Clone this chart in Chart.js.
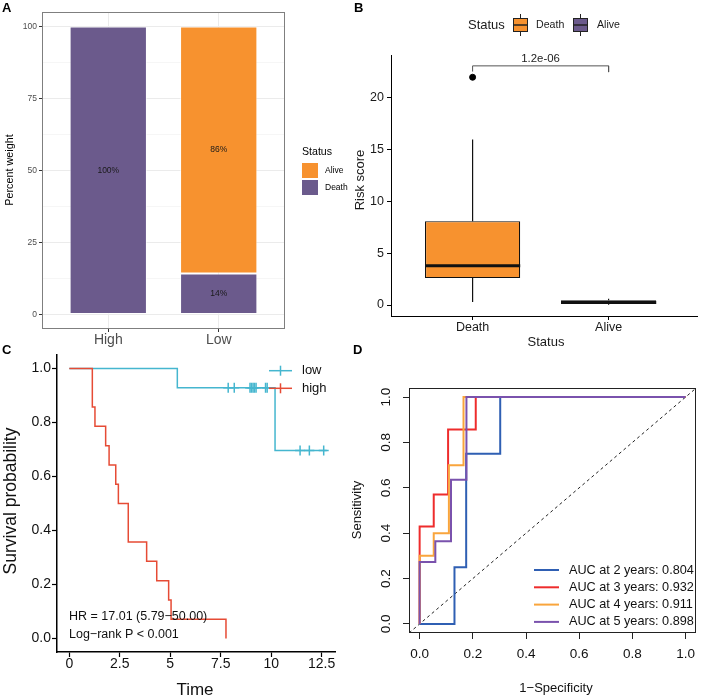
<!DOCTYPE html>
<html>
<head>
<meta charset="utf-8">
<script src="https://cdn.jsdelivr.net/npm/chart.js@4.4.1/dist/chart.umd.min.js"></script>
<style>
  body { margin: 0; background: #fff; width: 702px; height: 699px; position: relative; overflow: hidden; }
  canvas { position: absolute; }
</style>
</head>
<body>
<canvas id="panelA" width="351" height="352" style="left:0;top:0"></canvas>
<canvas id="panelB" width="351" height="352" style="left:351px;top:0"></canvas>
<canvas id="panelC" width="351" height="359" style="left:0;top:340px"></canvas>
<canvas id="panelD" width="351" height="359" style="left:351px;top:340px"></canvas>
<script>
// ---- A: status share per risk group (%)
const riskGroups = ['High', 'Low'];
const deathPct = [100, 14.29];
const alivePct = [0, 85.71];
const pctTicks = [0, 12.5, 25, 37.5, 50, 62.5, 75, 87.5, 100];

// ---- B: risk score by status (box stats)
const statusGroups = ['Death', 'Alive'];
const scoreLowWhisker = [0.3, 0.02];
const scoreQ1 = [2.6, 0.1];
const scoreMedian = [3.8, 0.25];
const scoreQ3 = [8.1, 0.45];
const scoreHighWhisker = [16, 0.6];
const scoreOutliers = [[22], []];
const scoreTicks = [0, 5, 10, 15, 20];
const pValue = '1.2e-06';
const bracketY = 23.1;

// ---- C: Kaplan-Meier
const highTime = [0, 1.14, 1.27, 1.80, 1.97, 2.30, 2.43, 2.92, 3.83, 4.33, 4.92, 5.04, 7.76];
const highSurv = [1, 0.857, 0.786, 0.714, 0.643, 0.571, 0.5, 0.357, 0.286, 0.214, 0.143, 0.071, 0];
const lowTime = [0, 5.35, 10.19, 12.75];
const lowSurv = [1, 0.929, 0.696, 0.696];
const lowCensorTime = [7.87, 8.17, 8.95, 9.02, 9.1, 9.17, 9.25, 9.72, 9.8, 11.43, 11.89, 12.6];
const lowCensorSurv = [0.929, 0.929, 0.929, 0.929, 0.929, 0.929, 0.929, 0.929, 0.929, 0.696, 0.696, 0.696];
const timeTicks = [0, 2.5, 5, 7.5, 10, 12.5];
const probTicks = [0, 0.2, 0.4, 0.6, 0.8, 1];
const hrText = 'HR = 17.01 (5.79\u221250.00)';
const pText = 'Log\u2212rank P < 0.001';

// ---- D: time-dependent ROC
const rocYears = [2, 3, 4, 5];
const rocAuc = [0.804, 0.932, 0.911, 0.898];
const rocFpr2 = [0, 0.131, 0.131, 0.175, 0.175, 0.303, 0.303, 1];
const rocTpr2 = [0, 0, 0.25, 0.25, 0.75, 0.75, 1, 1];
const rocFpr3 = [0, 0, 0.053, 0.053, 0.107, 0.107, 0.211, 0.211, 1];
const rocTpr3 = [0, 0.429, 0.429, 0.571, 0.571, 0.857, 0.857, 1, 1];
const rocFpr4 = [0, 0, 0.053, 0.053, 0.11, 0.11, 0.165, 0.165, 1];
const rocTpr4 = [0, 0.3, 0.3, 0.4, 0.4, 0.7, 0.7, 1, 1];
const rocFpr5 = [0, 0, 0.059, 0.059, 0.118, 0.118, 0.176, 0.176, 1];
const rocTpr5 = [0, 0.273, 0.273, 0.364, 0.364, 0.636, 0.636, 1, 1];
const unitTicks = [0, 0.2, 0.4, 0.6, 0.8, 1];

const FONT = '"Liberation Sans", Arial, Helvetica, sans-serif';
Chart.defaults.font.family = FONT;
const PURPLE = '#6B5A8C';
const ORANGE = '#F7922F';
const CYAN = '#45B6CF';
const RED = '#E64B35';
const rocColors = ['#2F5FB3', '#EE2C2C', '#F9A53C', '#7A52AD'];

function drawText(ctx, text, x, y, o) {
  ctx.save();
  ctx.font = o.font;
  ctx.fillStyle = o.color || '#000';
  ctx.textAlign = o.align || 'left';
  ctx.textBaseline = 'middle';
  ctx.translate(x, y);
  if (o.rotate) ctx.rotate(o.rotate);
  ctx.fillText(text, 0, 0);
  ctx.restore();
}
function seg(ctx, x1, y1, x2, y2) {
  ctx.beginPath(); ctx.moveTo(x1, y1); ctx.lineTo(x2, y2); ctx.stroke();
}
const pts = (xs, ys) => xs.map((x, i) => ({ x: x, y: ys[i] }));
const fixedTicks = arr => s => { s.ticks = arr.map(v => ({ value: v })); };

// ================= A =================
new Chart(document.getElementById('panelA'), {
  type: 'bar',
  data: {
    datasets: [
      { label: 'Death', data: riskGroups.map((g, i) => ({ x: i + 1, y: deathPct[i] })).filter(p => p.y > 0),
        backgroundColor: PURPLE, borderColor: 'rgba(255,255,255,0.65)', borderWidth: 1, borderSkipped: false },
      { label: 'Alive', data: riskGroups.map((g, i) => ({ x: i + 1, y: alivePct[i] })).filter(p => p.y > 0),
        backgroundColor: ORANGE, borderColor: 'rgba(255,255,255,0.65)', borderWidth: 1, borderSkipped: false }
    ]
  },
  options: {
    responsive: false, animation: false, events: [],
    barPercentage: 0.7, categoryPercentage: 1,
    layout: { padding: { top: 12, right: 66, left: 0, bottom: 0 } },
    plugins: { legend: { display: false }, tooltip: { enabled: false } },
    scales: {
      x: {
        type: 'linear', stacked: true, min: 0.4, max: 2.6, offset: false,
        afterBuildTicks: fixedTicks([1, 2]),
        afterFit: s => { s.height = 23; },
        ticks: { callback: v => riskGroups[v - 1], font: { size: 14 }, color: '#4D4D4D', padding: 0, maxRotation: 0, autoSkip: false },
        grid: { offset: false, color: '#EBEBEB', tickColor: '#333', tickLength: 3 },
        border: { display: false }
      },
      y: {
        stacked: true, min: -5, max: 105,
        afterBuildTicks: fixedTicks(pctTicks),
        afterFit: s => { s.width = 42; },
        ticks: { callback: v => (v % 25 === 0 ? v : ''), font: { size: 8.5 }, color: '#4D4D4D', padding: 2 },
        grid: {
          color: c => (c.tick && c.tick.value % 25 === 0 ? '#EBEBEB' : '#F6F6F6'),
          tickColor: c => (c.tick && c.tick.value % 25 === 0 ? '#333' : 'rgba(0,0,0,0)'),
          tickLength: 3
        },
        border: { display: false }
      }
    }
  },
  plugins: [{
    id: 'panelA',
    afterDatasetsDraw(chart) {
      const ctx = chart.ctx;
      chart.data.datasets.forEach((ds, di) => {
        chart.getDatasetMeta(di).data.forEach((bar, j) => {
          drawText(ctx, Math.round(ds.data[j].y) + '%', bar.x, (bar.y + bar.base) / 2,
            { font: '8.5px ' + FONT, align: 'center', color: '#1A1A1A' });
        });
      });
    },
    afterDraw(chart) {
      const ctx = chart.ctx, a = chart.chartArea;
      ctx.save();
      ctx.strokeStyle = '#7F7F7F'; ctx.lineWidth = 1;
      ctx.strokeRect(a.left + 0.5, a.top + 0.5, a.width - 1, a.height - 1);
      ctx.restore();
      drawText(ctx, 'A', 2, 8, { font: 'bold 13px ' + FONT });
      drawText(ctx, 'Percent weight', 10, 170, { font: '10.8px ' + FONT, align: 'center', rotate: -Math.PI / 2 });
      drawText(ctx, 'Status', 302, 152, { font: '10.6px ' + FONT });
      ctx.fillStyle = ORANGE; ctx.fillRect(302, 163, 16, 15);
      ctx.fillStyle = PURPLE; ctx.fillRect(302, 180, 16, 15);
      drawText(ctx, 'Alive', 325, 170.5, { font: '8.5px ' + FONT });
      drawText(ctx, 'Death', 325, 187.5, { font: '8.5px ' + FONT });
    }
  }]
});

// ================= B =================
new Chart(document.getElementById('panelB'), {
  type: 'bar',
  data: {
    datasets: [
      { type: 'scatter', data: scoreOutliers.flatMap((arr, i) => arr.map(v => ({ x: i + 1, y: v }))),
        pointRadius: 3, backgroundColor: '#000', borderColor: '#000' },
      { type: 'line', data: [{ x: 1, y: bracketY - 0.55 }, { x: 1, y: bracketY }, { x: 2, y: bracketY }, { x: 2, y: bracketY - 0.6 }],
        borderColor: '#555', borderWidth: 1, pointRadius: 0 },
      { type: 'bar', data: statusGroups.map((g, i) => ({ x: i + 1, y: [scoreQ1[i], scoreQ3[i]] })),
        backgroundColor: [ORANGE, PURPLE], borderColor: '#111', borderWidth: 1.2, borderSkipped: false,
        barPercentage: 0.7, categoryPercentage: 1 }
    ]
  },
  options: {
    responsive: false, animation: false, events: [],
    layout: { padding: { top: 55, right: 0, left: 0, bottom: 0 } },
    plugins: { legend: { display: false }, tooltip: { enabled: false } },
    scales: {
      x: {
        type: 'linear', min: 0.4, max: 2.65, offset: false,
        afterBuildTicks: fixedTicks([1, 2]),
        afterFit: s => { s.height = 36; },
        ticks: { callback: v => statusGroups[v - 1], font: { size: 12.5 }, color: '#1A1A1A', padding: 0, maxRotation: 0, autoSkip: false },
        grid: { offset: false, drawOnChartArea: false, tickColor: '#000', tickLength: 4 },
        border: { color: '#000', width: 1 }
      },
      y: {
        min: -1.06, max: 24.15,
        afterBuildTicks: fixedTicks(scoreTicks),
        afterFit: s => { s.width = 40; },
        ticks: { font: { size: 12.5 }, color: '#1A1A1A', padding: 3 },
        grid: { drawOnChartArea: false, tickColor: '#000', tickLength: 4 },
        border: { color: '#000', width: 1 }
      }
    }
  },
  plugins: [{
    id: 'panelB',
    afterDatasetsDraw(chart) {
      const ctx = chart.ctx, ys = chart.scales.y, xs = chart.scales.x;
      ctx.save();
      ctx.strokeStyle = '#111';
      chart.getDatasetMeta(2).data.forEach((el, i) => {
        const hw = el.width / 2;
        ctx.lineWidth = 1.2;
        seg(ctx, el.x, ys.getPixelForValue(scoreQ3[i]), el.x, ys.getPixelForValue(scoreHighWhisker[i]));
        seg(ctx, el.x, ys.getPixelForValue(scoreQ1[i]), el.x, ys.getPixelForValue(scoreLowWhisker[i]));
        ctx.lineWidth = 3;
        const ym = ys.getPixelForValue(scoreMedian[i]);
        seg(ctx, el.x - hw, ym, el.x + hw, ym);
      });
      ctx.restore();
      drawText(ctx, pValue, xs.getPixelForValue(1.5), ys.getPixelForValue(bracketY) - 7,
        { font: '11.4px ' + FONT, align: 'center', color: '#222' });
    },
    afterDraw(chart) {
      const ctx = chart.ctx;
      drawText(ctx, 'B', 3, 8, { font: 'bold 13px ' + FONT });
      drawText(ctx, 'Risk score', 9, 180, { font: '13px ' + FONT, align: 'center', rotate: -Math.PI / 2, color: '#1A1A1A' });
      drawText(ctx, 'Status', 195, 342, { font: '13px ' + FONT, align: 'center', color: '#1A1A1A' });
      drawText(ctx, 'Status', 117, 25, { font: '13px ' + FONT, color: '#1A1A1A' });
      [[162, ORANGE, 'Death', 185], [222, PURPLE, 'Alive', 246]].forEach(([x, col, lab, tx]) => {
        ctx.save();
        ctx.strokeStyle = '#222'; ctx.lineWidth = 1;
        seg(ctx, x + 7.5, 14, x + 7.5, 36);
        ctx.fillStyle = col; ctx.fillRect(x, 18, 15, 14);
        ctx.strokeRect(x + 0.5, 18.5, 14, 13);
        ctx.lineWidth = 1.5; seg(ctx, x, 25, x + 15, 25);
        ctx.restore();
        drawText(ctx, lab, tx, 25, { font: '10.6px ' + FONT, color: '#1A1A1A' });
      });
    }
  }]
});

// ================= C =================
new Chart(document.getElementById('panelC'), {
  type: 'line',
  data: {
    datasets: [
      { data: pts(highTime, highSurv), stepped: true, borderColor: RED, borderWidth: 1.5, pointRadius: 0 },
      { type: 'scatter', data: pts(lowCensorTime, lowCensorSurv), pointStyle: 'cross', pointRadius: 5,
        borderColor: CYAN, borderWidth: 1.5, backgroundColor: CYAN },
      { data: pts(lowTime, lowSurv), stepped: true, borderColor: CYAN, borderWidth: 1.5, pointRadius: 0 }
    ]
  },
  options: {
    responsive: false, animation: false, events: [],
    layout: { padding: { top: 15, right: 16, left: 0, bottom: 0 } },
    plugins: { legend: { display: false }, tooltip: { enabled: false } },
    scales: {
      x: {
        type: 'linear', min: -0.61, max: 13.16,
        afterBuildTicks: fixedTicks(timeTicks),
        afterFit: s => { s.height = 47; },
        ticks: { font: { size: 14 }, color: '#111', padding: -1, maxRotation: 0, autoSkip: false },
        grid: { drawOnChartArea: false, tickColor: '#000', tickLength: 5, tickWidth: 1.2 },
        border: { color: '#000', width: 1.5 }
      },
      y: {
        min: -0.05, max: 1.05,
        afterBuildTicks: fixedTicks(probTicks),
        afterFit: s => { s.width = 57; },
        ticks: { callback: v => v.toFixed(1), font: { size: 14 }, color: '#111', padding: 1 },
        grid: { drawOnChartArea: false, tickColor: '#000', tickLength: 5, tickWidth: 1.2 },
        border: { color: '#000', width: 1.5 }
      }
    }
  },
  plugins: [{
    id: 'panelC',
    afterDraw(chart) {
      const ctx = chart.ctx;
      drawText(ctx, 'C', 2, 10, { font: 'bold 13px ' + FONT });
      drawText(ctx, 'Survival probability', 11, 161, { font: '17.5px ' + FONT, align: 'center', rotate: -Math.PI / 2, color: '#111' });
      drawText(ctx, 'Time', 195, 350, { font: '17px ' + FONT, align: 'center', color: '#111' });
      drawText(ctx, hrText, 69, 277, { font: '12.5px ' + FONT, color: '#111' });
      drawText(ctx, pText, 69, 295, { font: '12.5px ' + FONT, color: '#111' });
      [[30.7, CYAN, 'low'], [48.3, RED, 'high']].forEach(([y, col, lab]) => {
        ctx.save();
        ctx.strokeStyle = col; ctx.lineWidth = 1.5;
        seg(ctx, 269, y, 292, y);
        seg(ctx, 280.5, y - 5, 280.5, y + 5);
        ctx.restore();
        drawText(ctx, lab, 302, y, { font: '13px ' + FONT, color: '#111' });
      });
    }
  }]
});

// ================= D =================
const rocSets = [[rocFpr2, rocTpr2], [rocFpr3, rocTpr3], [rocFpr4, rocTpr4], [rocFpr5, rocTpr5]];
new Chart(document.getElementById('panelD'), {
  type: 'line',
  data: {
    datasets: rocSets.map((r, i) => ({
      data: pts(r[0], r[1]), borderColor: rocColors[i], borderWidth: 2, pointRadius: 0, order: 4 - i
    })).concat([{
      data: [{ x: -0.04, y: -0.04 }, { x: 1.04, y: 1.04 }], borderColor: '#222', borderWidth: 1,
      borderDash: [3, 3], pointRadius: 0, order: 9
    }])
  },
  options: {
    responsive: false, animation: false, events: [],
    layout: { padding: { top: 48, right: 1, left: 0, bottom: 0 } },
    plugins: { legend: { display: false }, tooltip: { enabled: false } },
    scales: {
      x: {
        type: 'linear', min: -0.04, max: 1.04,
        afterBuildTicks: fixedTicks(unitTicks),
        afterFit: s => { s.height = 66; },
        ticks: { callback: v => v.toFixed(1), font: { size: 13.5 }, color: '#111', padding: 7, maxRotation: 0, autoSkip: false },
        grid: { drawOnChartArea: false, tickColor: '#222', tickLength: 6 },
        border: { display: false }
      },
      y: {
        min: -0.04, max: 1.04,
        afterBuildTicks: fixedTicks(unitTicks),
        afterFit: s => { s.width = 58; },
        ticks: { display: false },
        grid: { drawOnChartArea: false, tickColor: '#222', tickLength: 6 },
        border: { display: false }
      }
    }
  },
  plugins: [{
    id: 'panelD',
    afterDraw(chart) {
      const ctx = chart.ctx, a = chart.chartArea, ys = chart.scales.y;
      ctx.save();
      ctx.strokeStyle = '#222'; ctx.lineWidth = 1;
      ctx.strokeRect(Math.round(a.left) + 0.5, Math.round(a.top) + 0.5, Math.round(a.width) - 1, Math.round(a.height) - 1);
      ctx.restore();
      ys.ticks.forEach(t => drawText(ctx, t.value.toFixed(1), 35, ys.getPixelForValue(t.value),
        { font: '13.5px ' + FONT, align: 'center', rotate: -Math.PI / 2, color: '#111' }));
      drawText(ctx, 'D', 2, 10, { font: 'bold 13px ' + FONT });
      drawText(ctx, 'Sensitivity', 6, 170, { font: '13px ' + FONT, align: 'center', rotate: -Math.PI / 2, color: '#111' });
      drawText(ctx, '1\u2212Specificity', 205, 348, { font: '13px ' + FONT, align: 'center', color: '#111' });
      rocYears.forEach((yr, i) => {
        const y = 230 + i * 17.3;
        ctx.save();
        ctx.strokeStyle = rocColors[i]; ctx.lineWidth = 2;
        seg(ctx, 183, y, 208, y);
        ctx.restore();
        drawText(ctx, 'AUC at ' + yr + ' years: ' + rocAuc[i].toFixed(3), 218, y, { font: '12.7px ' + FONT, color: '#111' });
      });
    }
  }]
});
</script>
</body>
</html>
